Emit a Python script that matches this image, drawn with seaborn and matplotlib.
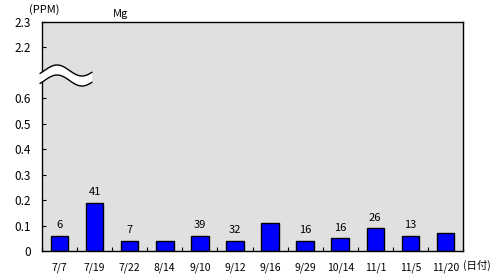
import numpy as np
import pandas as pd
import matplotlib
matplotlib.use("Agg")
import matplotlib.pyplot as plt
import seaborn as sns

dates = ["7/7", "7/19", "7/22", "8/14", "9/10", "9/12", "9/16", "9/29", "10/14", "11/1", "11/5", "11/20"]
values = [0.06, 0.19, 0.04, 0.04, 0.06, 0.04, 0.11, 0.04, 0.05, 0.09, 0.06, 0.07]
bar_labels = ["6", "41", "7", "", "39", "32", "", "16", "16", "26", "13", ""]
ytick_pos = [0, 0.1, 0.2, 0.3, 0.4, 0.5, 0.6, 0.8, 0.9]
ytick_labels = ["0", "0.1", "0.2", "0.3", "0.4", "0.5", "0.6", "2.2", "2.3"]

sns.set_style("white")
plt.rcParams['font.family'] = ['Noto Sans CJK JP', 'DejaVu Sans']
plt.rcParams['text.color'] = 'black'
plt.rcParams['xtick.color'] = 'black'
plt.rcParams['ytick.color'] = 'black'
plt.rcParams['xtick.labelcolor'] = 'black'
plt.rcParams['ytick.labelcolor'] = 'black'

W, H = 498, 277
fig = plt.figure(figsize=(W / 100, H / 100), dpi=100)
ax = fig.add_axes([42 / W, 1 - 251 / H, 421 / W, 229 / H])
ax.set_facecolor("#e0e0e0")

df = pd.DataFrame({"date": dates, "value": values})
sns.barplot(data=df, x="date", y="value", color="#0000ff", edgecolor="black",
            linewidth=1.0, width=0.5, saturation=1, ax=ax)

ax.bar_label(ax.containers[0], labels=bar_labels, padding=4, fontsize=8, color="black")

ax.set_ylim(0, 0.9)
ax.set_xlim(-0.5, len(dates) - 0.5)
ax.set_yticks(ytick_pos)
ax.set_yticklabels(ytick_labels, fontsize=8.5)
ax.tick_params(axis="y", direction="in", length=3, width=0.8, pad=8, left=True)
ax.tick_params(axis="x", which="major", length=0, pad=8, labelsize=7.5)
ax.set_xticks(np.arange(len(dates) + 1) - 0.5, minor=True)
ax.tick_params(axis="x", which="minor", direction="in", length=3, width=0.8, bottom=True)
ax.set_xlabel("")
ax.set_ylabel("")
for s in ax.spines.values():
    s.set_color("black")
    s.set_linewidth(1.0)
    s.set_visible(True)

# axis break symbol (decoration)
xs = np.linspace(40, 92, 100)
t = (xs - 42) / 50
upper = 70.5 - 5.5 * np.sin(2 * np.pi * (t - 0.05))
lower = upper + 10
fx = xs / W
fig.patches.append(plt.Polygon(np.column_stack([np.r_[fx, fx[::-1]],
                                                np.r_[1 - upper / H, (1 - lower / H)[::-1]]]),
                               closed=True, facecolor="white", edgecolor="none",
                               transform=fig.transFigure, figure=fig, zorder=10))
fig.lines.append(plt.Line2D(fx, 1 - upper / H, color="black", lw=1, transform=fig.transFigure, figure=fig, zorder=11))
fig.lines.append(plt.Line2D(fx, 1 - lower / H, color="black", lw=1, transform=fig.transFigure, figure=fig, zorder=11))

fig.text(44 / W, 1 - 10 / H, "(PPM)", ha="center", va="center", fontsize=8)
fig.text(121 / W, 1 - 14 / H, "Mg", ha="center", va="center", fontsize=8)
fig.text(463 / W, 1 - 265 / H, "(日付)", ha="left", va="center", fontsize=7.5)

fig.savefig("out.png", dpi=100)
